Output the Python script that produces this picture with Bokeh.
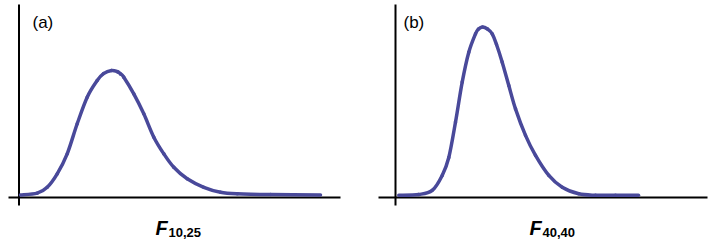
from bokeh.plotting import figure
from bokeh.layouts import row
from bokeh.models import Label, Range1d
from bokeh.embed import file_html
from bokeh.resources import INLINE

# ---- data (F value, density) ----
panel_labels = ["(a)", "(b)"]
dist_names = ["10,25", "40,40"]

fa_x = [0.015, 0.182, 0.282, 0.382, 0.482, 0.582, 0.682, 0.782, 0.845, 0.925,
        0.985, 1.015, 1.048, 1.148, 1.248, 1.348, 1.448, 1.548, 1.682, 1.848,
        2.015, 2.182, 2.515, 3.015]
fa_y = [0.016, 0.027, 0.064, 0.148, 0.273, 0.461, 0.627, 0.731, 0.774, 0.794,
        0.786, 0.773, 0.752, 0.648, 0.523, 0.377, 0.273, 0.189, 0.117, 0.064,
        0.033, 0.023, 0.018, 0.016]

fb_x = [0.033, 0.233, 0.367, 0.467, 0.533, 0.60, 0.667, 0.733, 0.80, 0.83,
        0.87, 0.92, 0.967, 1.01, 1.067, 1.133, 1.20, 1.30, 1.40, 1.533,
        1.667, 1.833, 2.0, 2.2, 2.43]
fb_y = [0.014, 0.019, 0.044, 0.138, 0.250, 0.471, 0.721, 0.908, 1.023, 1.053,
        1.066, 1.053, 1.023, 0.956, 0.846, 0.700, 0.554, 0.388, 0.263, 0.138,
        0.064, 0.023, 0.014, 0.014, 0.014]

CURVE = "#49499a"
FONT = "Liberation Sans"
H = 246


def smooth_segments(xs, ys):
    """Catmull-Rom through the read points, drawn as cubic Bezier pieces."""
    n = len(xs)
    out = dict(x0=[], y0=[], x1=[], y1=[], cx0=[], cy0=[], cx1=[], cy1=[])
    for i in range(n - 1):
        xp, yp = (xs[i - 1], ys[i - 1]) if i > 0 else (xs[i], ys[i])
        xn, yn = (xs[i + 2], ys[i + 2]) if i + 2 < n else (xs[i + 1], ys[i + 1])
        out["x0"].append(xs[i]); out["y0"].append(ys[i])
        out["x1"].append(xs[i + 1]); out["y1"].append(ys[i + 1])
        out["cx0"].append(xs[i] + (xs[i + 1] - xp) / 6.0)
        out["cy0"].append(ys[i] + (ys[i + 1] - yp) / 6.0)
        out["cx1"].append(xs[i + 1] - (xn - xs[i]) / 6.0)
        out["cy1"].append(ys[i + 1] - (yn - ys[i]) / 6.0)
    return out


def panel(width, x_start, xs, ys, xaxis_end, tag, sub, tag_x, f_x):
    p = figure(width=width, height=H, output_backend="svg", toolbar_location=None,
               x_range=Range1d(x_start, x_start + width / 100.0),
               y_range=Range1d(-(H - 197) / 160.0, 197 / 160.0),
               min_border=0, min_border_left=0, min_border_right=0,
               min_border_top=0, min_border_bottom=0)
    p.axis.visible = False
    p.grid.visible = False
    p.outline_line_color = None
    p.background_fill_color = "white"
    p.border_fill_color = "white"
    # axis lines (crossing at the origin)
    p.segment(x0=[x_start + 0.08], y0=[0.0], x1=[xaxis_end], y1=[0.0],
              line_color="black", line_width=2)
    p.segment(x0=[0.0], y0=[-0.05], x1=[0.0], y1=[193 / 160.0],
              line_color="black", line_width=2)
    p.bezier(**smooth_segments(xs, ys), line_color=CURVE,
             line_width=3.5, line_cap="round")
    p.add_layout(Label(x=tag_x, y=224, x_units="screen", y_units="screen", text=tag,
                       text_font=FONT, text_font_size="17px", text_color="black",
                       text_baseline="alphabetic"))
    p.add_layout(Label(x=f_x, y=19, x_units="screen", y_units="screen", text="F",
                       text_font=FONT, text_font_size="20px", text_font_style="bold italic",
                       text_color="black", text_baseline="alphabetic"))
    p.add_layout(Label(x=f_x + 13, y=14, x_units="screen", y_units="screen", text=sub,
                       text_font=FONT, text_font_size="13px", text_font_style="bold",
                       text_color="black", text_baseline="alphabetic"))
    return p


pa = panel(370, -0.185, fa_x, fa_y, 3.215, panel_labels[0], dist_names[0], 32, 155)
pb = panel(340, -0.25, fb_x, fb_y, 3.12, panel_labels[1], dist_names[1], 33, 159)

layout = row(pa, pb)
open("out.html", "w").write(file_html(layout, INLINE))
